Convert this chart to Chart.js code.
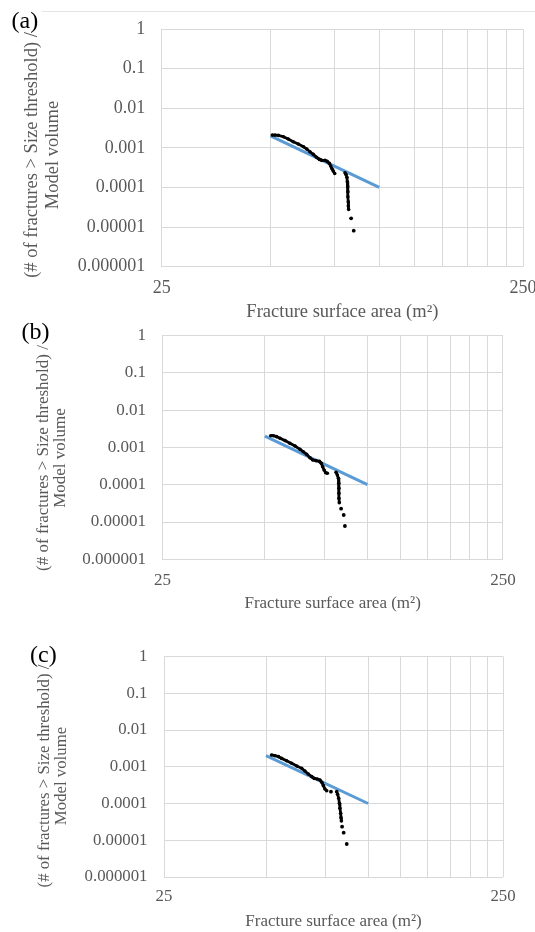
<!DOCTYPE html>
<html>
<head>
<meta charset="utf-8">
<script src="https://cdn.jsdelivr.net/npm/chart.js@4.4.1/dist/chart.umd.min.js"></script>
<style>
  html, body { margin:0; padding:0; background:#fff; }
  #wrap { position:relative; width:535px; height:932px; }
  #wrap canvas { position:absolute; left:0; top:0; }
</style>
</head>
<body>
<div id="wrap">
  <canvas id="chartA" width="535" height="932"></canvas>
  <canvas id="chartB" width="535" height="932"></canvas>
  <canvas id="chartC" width="535" height="932"></canvas>
</div>
<script>
// --- axis ticks / text ---
const xGridValues = [25, 50, 75, 100, 125, 150, 175, 200, 225, 250];
const xTickLabels = ['25', '', '', '', '', '', '', '', '', '250'];
const yTickValues = [1, 0.1, 0.01, 0.001, 0.0001, 0.00001, 0.000001];
const yTickLabels = ['1', '0.1', '0.01', '0.001', '0.0001', '0.00001', '0.000001'];
const xTitle = 'Fracture surface area (m\u00B2)';
const yTitleLines = ['(# of fractures > Size threshold) /', 'Model volume'];

// fitted power law (blue), same in all panels
const fitX = [50, 100];
const fitY = [0.002, 0.0001];

// panel (a)
const aUpperX = [50.6, 51.5, 52.6, 54.3, 56.0, 57.8, 59.7, 61.7, 63.0, 64.3, 65.7, 67.1, 68.3, 69.3, 70.8, 71.8, 72.8, 73.4, 74.0, 74.6, 75.3];
const aUpperY = [0.00210, 0.00210, 0.00206, 0.00191, 0.00167, 0.00143, 0.00125, 0.00107, 0.000933, 0.000798, 0.000684, 0.000575, 0.000511, 0.000483, 0.000483, 0.000455, 0.000405, 0.000347, 0.000297, 0.000259, 0.000226];
const aLowerX = [80.4, 80.9, 81.4, 81.6, 81.8, 81.9, 81.9, 82.1, 82.1, 82.3];
const aLowerY = [0.000235, 0.000214, 0.000180, 0.000140, 0.000104, 0.0000780, 0.0000583, 0.0000436, 0.0000339, 0.0000279];
const aTailX = [83.6, 85.0];
const aTailY = [0.0000166, 0.0000081];

// panel (b)
const bUpperX = [52.0, 52.9, 54.1, 55.4, 57.3, 59.2, 61.3, 63.4, 64.8, 66.3, 67.8, 69.1, 70.6, 72.3, 73.2, 73.9, 74.6, 75.4, 76.3];
const bUpperY = [0.00206, 0.00206, 0.00194, 0.00175, 0.00152, 0.00129, 0.00109, 0.000888, 0.000768, 0.000652, 0.000530, 0.000460, 0.000441, 0.000423, 0.000374, 0.000304, 0.000248, 0.000210, 0.000202];
const bLowerX = [80.9, 81.6, 82.2, 82.4, 82.5, 82.5, 82.5, 82.7];
const bLowerY = [0.000215, 0.000182, 0.000148, 0.000109, 0.0000799, 0.0000587, 0.0000431, 0.0000330];
const bTailX = [83.7, 85.2, 85.9];
const bTailY = [0.0000228, 0.0000154, 0.0000078];

// panel (c)
const cUpperX = [51.9, 53.1, 54.4, 55.6, 57.5, 59.5, 61.6, 63.7, 65.1, 66.6, 68.2, 69.3, 70.8, 72.1, 73.0, 73.8, 74.6, 75.5];
const cUpperY = [0.00209, 0.00200, 0.00188, 0.00169, 0.00146, 0.00124, 0.00105, 0.000905, 0.000766, 0.000635, 0.000537, 0.000484, 0.000464, 0.000436, 0.000377, 0.000306, 0.000248, 0.000223];
const cLowerX = [80.8, 81.3, 81.9, 82.3, 82.6, 83.0, 83.2, 83.4];
const cLowerY = [0.000210, 0.000178, 0.000138, 0.000101, 0.0000739, 0.0000540, 0.0000412, 0.0000334];
const cTailX = [77.7, 83.8, 84.7, 86.5];
const cTailY = [0.000210, 0.0000234, 0.0000161, 0.0000079];

const SERIF = "'Liberation Serif', 'Times New Roman', serif";
const GREY = '#595959';
const GRID = '#d9d9d9';
const W = 535, H = 932;

function pts(xs, ys){ return xs.map((x, i) => ({ x, y: ys[i] })); }

// labels + rotated y title, drawn over each panel
const panelText = {
  id: 'panelText',
  afterDraw(chart, args, o) {
    const ctx = chart.ctx;
    ctx.save();
    if (o.rule) {
      ctx.strokeStyle = '#e4e4e4'; ctx.lineWidth = 1;
      ctx.beginPath(); ctx.moveTo(o.rule[0], o.rule[1] + 0.5); ctx.lineTo(o.rule[2], o.rule[1] + 0.5); ctx.stroke();
    }
    ctx.fillStyle = '#000';
    ctx.font = `${o.labelSize}px ${SERIF}`;
    ctx.textAlign = 'left'; ctx.textBaseline = 'middle';
    ctx.fillText(o.label, o.labelX, o.labelY);

    ctx.fillStyle = GREY;
    ctx.font = `${o.yTitleSize}px ${SERIF}`;
    ctx.textAlign = 'center';
    yTitleLines.forEach((line, i) => {
      ctx.save();
      ctx.translate(o.yTitleX[i], o.yTitleY);
      ctx.rotate(-Math.PI / 2);
      ctx.fillText(line, 0, 0);
      ctx.restore();
    });
    ctx.restore();
  }
};

function makePanel(id, series, p){
  const yW = p.left;   // y axis box runs from the canvas edge, so tick labels are never clipped
  const xH = p.xH;
  const dense = (data) => ({
    data, showLine: true, borderColor: '#000', borderWidth: 2.8,
    pointRadius: 1.8, pointBackgroundColor: '#000', pointBorderWidth: 0, tension: 0
  });
  return new Chart(document.getElementById(id), {
    type: 'scatter',
    data: {
      datasets: [
        dense(series.upper),
        dense(series.lower),
        { data: series.tail, showLine: false, pointRadius: 1.9, pointBackgroundColor: '#000', pointBorderWidth: 0 },
        { data: pts(fitX, fitY), showLine: true, borderColor: '#5b9bd5', borderWidth: 3, pointRadius: 0 }
      ]
    },
    options: {
      responsive: false,
      animation: false,
      events: [],
      layout: { padding: { left: 0, top: p.top, right: W - p.right, bottom: H - p.bottom - xH } },
      plugins: {
        legend: { display: false },
        tooltip: { enabled: false },
        panelText: p.text
      },
      scales: {
        x: {
          type: 'logarithmic', min: 25, max: 250,
          afterBuildTicks: (s) => { s.ticks = xGridValues.map(v => ({ value: v })); },
          afterFit: (s) => { s.height = xH; s.paddingLeft = 0; s.paddingRight = 0; },
          ticks: {
            autoSkip: false, maxRotation: 0, color: GREY, padding: p.xPad,
            font: { family: SERIF, size: p.tickSize },
            callback: (v, i) => xTickLabels[i]
          },
          grid: { color: GRID, lineWidth: 1, drawTicks: false },
          border: { display: false },
          title: { display: true, text: xTitle, color: GREY, padding: 0, font: { family: SERIF, size: p.xTitleSize } }
        },
        y: {
          type: 'logarithmic', min: 0.000001, max: 1,
          afterBuildTicks: (s) => { s.ticks = yTickValues.map(v => ({ value: v })); },
          afterFit: (s) => { s.width = yW; s.paddingTop = 0; s.paddingBottom = 0; },
          ticks: {
            autoSkip: false, color: GREY, padding: 16.5,
            font: { family: SERIF, size: p.tickSize },
            callback: (v, i) => yTickLabels[i]
          },
          grid: { color: GRID, lineWidth: 1, drawTicks: false },
          border: { display: false }
        }
      }
    },
    plugins: [panelText]
  });
}

makePanel('chartA',
  { upper: pts(aUpperX, aUpperY), lower: pts(aLowerX, aLowerY), tail: pts(aTailX, aTailY) },
  { left: 161.7, right: 523, top: 29, bottom: 266.7, xH: 56.1, xPad: 10.5, tickSize: 18, xTitleSize: 18.5,
    text: { label: '(a)', labelX: 11.5, labelY: 22, labelSize: 24, yTitleSize: 18.5, yTitleX: [32.4, 52.9], yTitleY: 155, rule: [42, 11, 535] } });

makePanel('chartB',
  { upper: pts(bUpperX, bUpperY), lower: pts(bLowerX, bLowerY), tail: pts(bTailX, bTailY) },
  { left: 162.4, right: 502.9, top: 335.5, bottom: 559.3, xH: 54.4, xPad: 11, tickSize: 17, xTitleSize: 17,
    text: { label: '(b)', labelX: 21.5, labelY: 333, labelSize: 24, yTitleSize: 17, yTitleX: [44, 60.5], yTitleY: 458 } });

makePanel('chartC',
  { upper: pts(cUpperX, cUpperY), lower: pts(cLowerX, cLowerY), tail: pts(cTailX, cTailY) },
  { left: 164, right: 503, top: 656.5, bottom: 877, xH: 54.9, xPad: 9.8, tickSize: 16.8, xTitleSize: 17,
    text: { label: '(c)', labelX: 30, labelY: 656, labelSize: 24, yTitleSize: 16.8, yTitleX: [44.4, 62], yTitleY: 776 } });
</script>
</body>
</html>
